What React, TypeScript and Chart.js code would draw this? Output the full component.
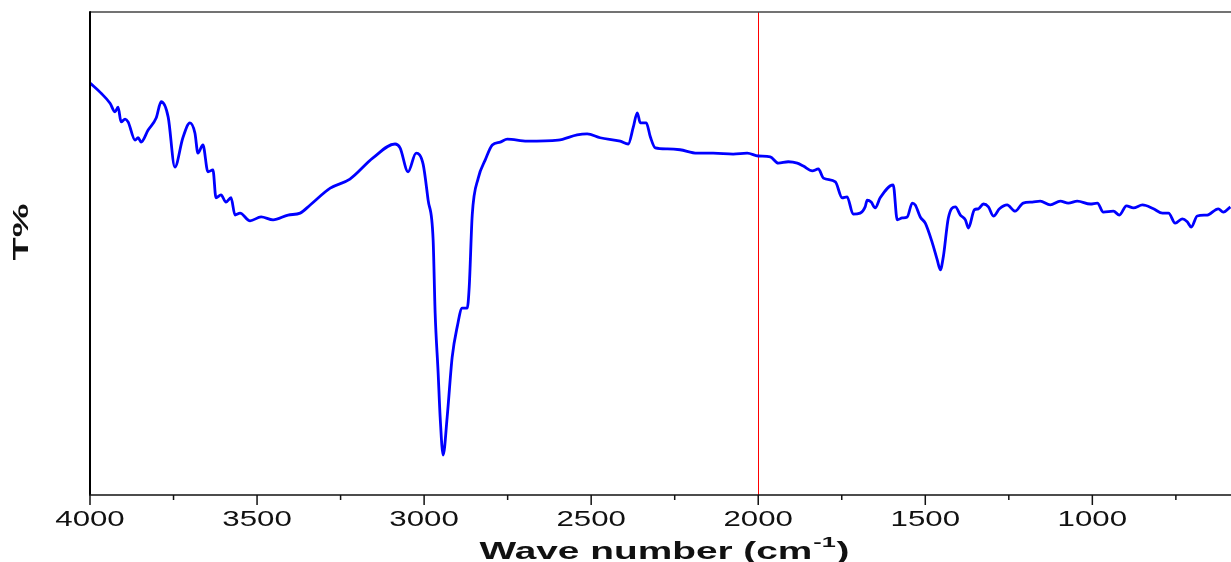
import { useEffect, useRef } from "react";
import { Chart, registerables } from "chart.js";

Chart.register(...registerables);

// Wavenumber (cm-1), descending
const wavenumbers = [
  4000, 3967, 3940, 3925, 3916, 3907, 3895, 3886, 3865, 3856, 3847, 3826, 3802, 3787, 3766, 3746,
  3722, 3701, 3686, 3677, 3662, 3647, 3632, 3623, 3608, 3593, 3578, 3566, 3551, 3521, 3488, 3452,
  3407, 3371, 3341, 3281, 3222, 3153, 3087, 3072, 3048, 3024, 3003, 2988, 2973, 2967, 2958, 2952,
  2943, 2931, 2916, 2901, 2886, 2871, 2865, 2856, 2838, 2817, 2796, 2772, 2751, 2692, 2599, 2542,
  2512, 2473, 2413, 2389, 2374, 2362, 2353, 2335, 2323, 2308, 2272, 2234, 2183, 2135, 2075, 2033,
  2000, 1964, 1940, 1910, 1883, 1865, 1838, 1820, 1805, 1769, 1749, 1734, 1716, 1695, 1680, 1674,
  1662, 1650, 1635, 1596, 1584, 1569, 1554, 1539, 1530, 1515, 1500, 1479, 1464, 1455, 1446, 1431,
  1410, 1395, 1380, 1371, 1353, 1341, 1326, 1311, 1296, 1278, 1255, 1231, 1207, 1180, 1156, 1126,
  1096, 1072, 1045, 1006, 985, 967, 937, 919, 898, 877, 850, 817, 790, 772, 752, 731,
  716, 704, 686, 656, 623, 608, 587,
];

// Transmittance (arbitrary %, 0..100 over the plot height)
const transmittance = [
  85.2, 83.1, 81.0, 79.2, 80.2, 77.1, 77.7, 77.1, 73.3, 73.8, 72.9, 75.4, 77.9, 81.3, 78.1, 67.7,
  73.8, 76.9, 74.8, 70.6, 72.3, 66.7, 67.1, 61.3, 61.9, 60.4, 61.3, 57.7, 58.1, 56.5, 57.3, 56.7,
  57.7, 58.1, 59.8, 63.3, 65.2, 69.6, 72.5, 71.7, 66.7, 70.6, 68.3, 60.8, 52.5, 37.3, 24.8, 15.6,
  7.7, 15.6, 28.1, 34.4, 38.3, 38.3, 42.7, 57.7, 65.4, 69.2, 72.3, 72.9, 73.5, 73.1, 73.3, 74.4,
  74.6, 73.8, 73.1, 72.5, 76.0, 79.0, 76.9, 76.9, 74.0, 71.7, 71.5, 71.3, 70.6, 70.6, 70.4, 70.6,
  70.0, 69.8, 68.5, 68.8, 68.5, 67.9, 66.9, 67.3, 65.4, 64.6, 61.3, 61.5, 57.9, 58.1, 59.4, 60.8,
  60.4, 59.2, 61.3, 64.0, 56.7, 57.1, 57.3, 60.2, 59.8, 57.3, 56.0, 51.9, 48.3, 46.3, 49.0, 57.1,
  59.4, 57.7, 56.7, 55.0, 58.8, 59.0, 60.0, 59.4, 57.5, 59.0, 59.8, 58.5, 60.2, 60.4, 60.6, 59.8,
  60.6, 60.2, 60.6, 60.0, 60.2, 58.3, 58.5, 57.7, 59.6, 59.2, 59.8, 59.0, 58.1, 58.1, 56.0, 56.9,
  56.3, 55.2, 57.5, 57.7, 59.0, 58.3, 59.4,
];

const majorTicks = [4000, 3500, 3000, 2500, 2000, 1500, 1000];
const minorTicks = [3750, 3250, 2750, 2250, 1750, 1250, 750];
const markerLine = 2000;
const xTitleMain = "Wave number (cm";
const xTitleSup = "-1";
const xTitleEnd = ")";
const yTitle = "T%";

const decorPlugin = {
  id: "decor",
  beforeDatasetsDraw(chart: any) {
    const { ctx, chartArea: a, scales } = chart;
    const px = Math.round(scales.x.getPixelForValue(markerLine)) + 0.5;
    ctx.save();
    ctx.strokeStyle = "#ff0000";
    ctx.lineWidth = 1;
    ctx.beginPath();
    ctx.moveTo(px, a.top);
    ctx.lineTo(px, a.bottom);
    ctx.stroke();
    ctx.restore();
  },
  afterDraw(chart: any) {
    const { ctx, chartArea: a, scales } = chart;
    const x = scales.x;
    ctx.save();
    // frame
    ctx.strokeStyle = "#444";
    ctx.lineWidth = 1.5;
    ctx.beginPath();
    ctx.moveTo(a.left, a.top);
    ctx.lineTo(a.right, a.top);
    ctx.stroke();
    ctx.strokeStyle = "#000";
    ctx.lineWidth = 2;
    ctx.beginPath();
    ctx.moveTo(a.left, a.top - 0.75);
    ctx.lineTo(a.left, a.bottom);
    ctx.stroke();
    ctx.lineWidth = 1.5;
    ctx.strokeStyle = "#111";
    ctx.beginPath();
    ctx.moveTo(a.left - 1, a.bottom);
    ctx.lineTo(a.right, a.bottom);
    ctx.stroke();
    // ticks
    ctx.lineWidth = 1.5;
    majorTicks.forEach((v) => {
      const p = x.getPixelForValue(v);
      ctx.beginPath();
      ctx.moveTo(p, a.bottom);
      ctx.lineTo(p, a.bottom + 10);
      ctx.stroke();
    });
    minorTicks.forEach((v) => {
      const p = x.getPixelForValue(v);
      ctx.beginPath();
      ctx.moveTo(p, a.bottom);
      ctx.lineTo(p, a.bottom + 5);
      ctx.stroke();
    });
    // tick labels
    ctx.fillStyle = "#111";
    ctx.font = "22px 'Liberation Sans', Arial, sans-serif";
    ctx.textAlign = "center";
    ctx.textBaseline = "alphabetic";
    majorTicks.forEach((v) => {
      const p = x.getPixelForValue(v);
      ctx.save();
      ctx.translate(p, 526);
      ctx.scale(1.42, 1);
      ctx.fillText(String(v), 0, 0);
      ctx.restore();
    });
    // x title
    const mainFont = "bold 23px 'Liberation Sans', Arial, sans-serif";
    const supFont = "bold 15px 'Liberation Sans', Arial, sans-serif";
    ctx.font = mainFont;
    const w1 = ctx.measureText(xTitleMain).width;
    const w3 = ctx.measureText(xTitleEnd).width;
    ctx.font = supFont;
    const w2 = ctx.measureText(xTitleSup).width;
    const total = w1 + w2 + w3 + 1;
    const targetW = 370;
    const s = targetW / total;
    const cx = (a.left + a.right) / 2 + 4;
    ctx.save();
    ctx.translate(cx - targetW / 2, 559);
    ctx.scale(s, 1);
    ctx.textAlign = "left";
    ctx.font = mainFont;
    ctx.fillText(xTitleMain, 0, 0);
    ctx.font = supFont;
    ctx.fillText(xTitleSup, w1 + 0.5, -12);
    ctx.font = mainFont;
    ctx.fillText(xTitleEnd, w1 + w2 + 1, 0);
    ctx.restore();
    // y title
    ctx.font = "bold 22px 'Liberation Sans', Arial, sans-serif";
    const wy = ctx.measureText(yTitle).width;
    ctx.save();
    ctx.translate(28, 232);
    ctx.rotate(-Math.PI / 2);
    ctx.scale(57 / wy, 1);
    ctx.textAlign = "center";
    ctx.textBaseline = "alphabetic";
    ctx.fillText(yTitle, 0, 0);
    ctx.restore();
    ctx.restore();
  },
};

export default function App() {
  const ref = useRef<HTMLCanvasElement | null>(null);
  useEffect(() => {
    if (!ref.current) return;
    const chart = new Chart(ref.current, {
      type: "line",
      data: {
        datasets: [
          {
            data: wavenumbers.map((w, i) => ({ x: w, y: transmittance[i] })),
            borderColor: "#0000ff",
            borderWidth: 2.8,
            pointRadius: 0,
            cubicInterpolationMode: "monotone",
            borderJoinStyle: "round",
            fill: false,
          },
        ],
      },
      options: {
        responsive: false,
        animation: false,
        devicePixelRatio: 1,
        layout: { padding: { left: 90, top: 12, right: 0, bottom: 67 } },
        plugins: { legend: { display: false }, tooltip: { enabled: false } },
        scales: {
          x: { type: "linear", reverse: true, min: 585, max: 4000, display: false },
          y: { type: "linear", min: -0.625, max: 100, display: false },
        },
      },
      plugins: [decorPlugin],
    });
    return () => chart.destroy();
  }, []);
  return (
    <div style={{ position: "absolute", left: 0, top: 0, width: 1231, height: 562, background: "#fff" }}>
      <canvas ref={ref} width={1231} height={562} />
    </div>
  );
}
